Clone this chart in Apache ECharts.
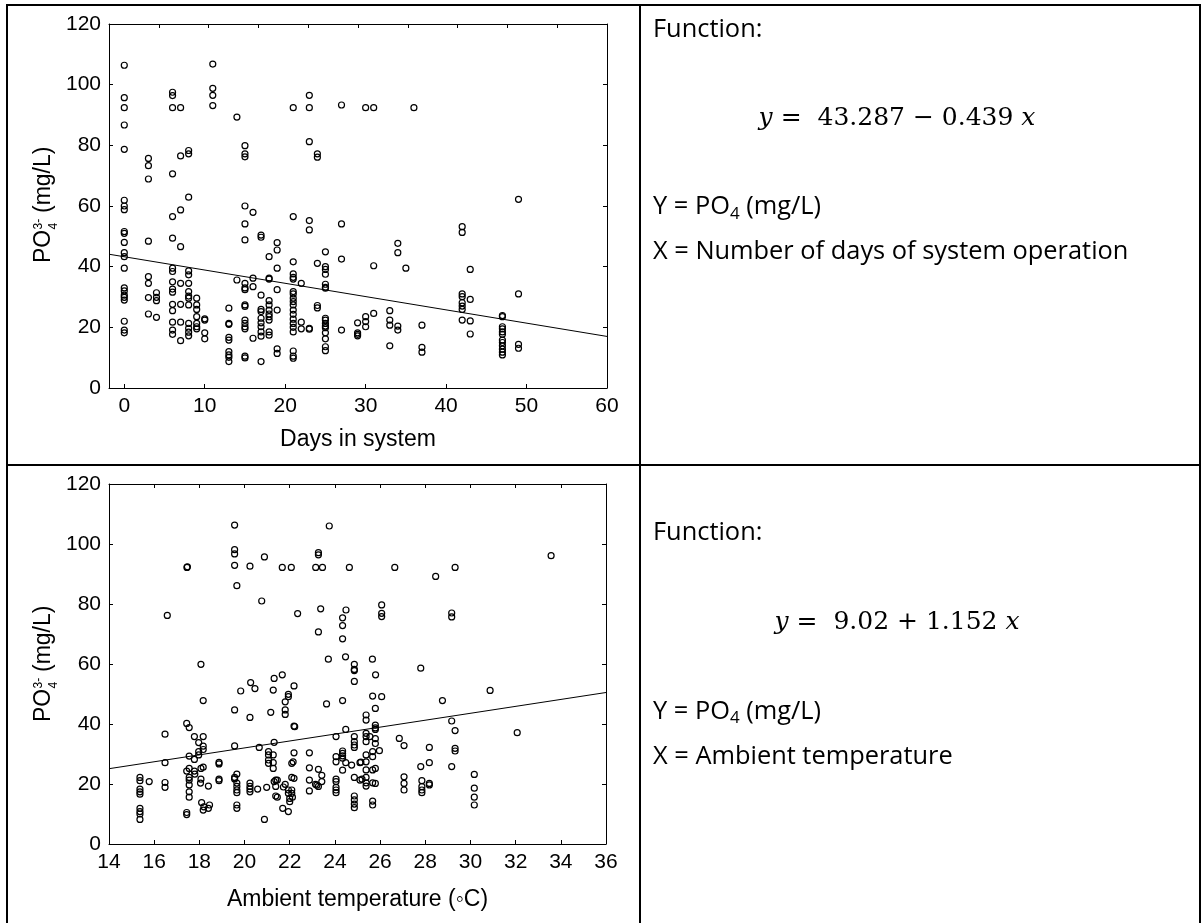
<!DOCTYPE html>
<html><head><meta charset="utf-8">
<script src="https://cdn.jsdelivr.net/npm/echarts@6/dist/echarts.min.js"></script>
<style>html,body{margin:0;padding:0;background:#fff}#c{width:1203px;height:923px}</style>
</head><body><div id="c"></div>
<script>
// ---- data: PO4 vs days in system (grouped by day) ----
const daysGroups = [
 [0, [106.4, 95.7, 92.4, 86.7, 78.7, 61.9, 60.0, 58.8, 51.6, 51.0, 48.0, 44.6, 43.3, 39.5, 33.0, 32.0, 30.6, 29.9, 29.0, 22.0, 19.1, 18.2]],
 [3, [75.7, 73.3, 68.9, 48.4, 36.7, 34.5, 29.8, 24.4]],
 [4, [31.4, 29.9, 28.8, 23.3]],
 [6, [97.5, 96.4, 92.4, 70.6, 56.5, 49.4, 39.5, 38.4, 35.0, 32.6, 31.6, 27.6, 25.5, 21.7, 19.1, 17.7]],
 [7, [92.4, 76.5, 58.7, 46.6, 34.5, 27.6, 21.7, 15.6]],
 [8, [78.3, 77.2, 62.9, 38.6, 37.3, 34.5, 31.8, 30.3, 29.6, 27.4, 21.3, 19.7, 18.4, 17.2]],
 [9, [29.6, 27.4, 25.9, 23.5, 21.3, 20.2, 19.5]],
 [10, [22.8, 22.4, 18.2, 16.2]],
 [11, [106.8, 98.8, 96.5, 93.1]],
 [13, [26.3, 21.3, 21.0, 16.7, 15.8, 12.0, 10.9, 10.1, 8.7]],
 [14, [89.3, 35.6]],
 [15, [79.9, 77.2, 76.2, 60.0, 54.1, 48.8, 34.5, 33.0, 32.4, 27.4, 26.9, 22.4, 21.3, 20.2, 19.5, 10.5, 9.9]],
 [16, [57.9, 36.2, 33.4, 16.4]],
 [17, [50.4, 49.7, 30.6, 25.9, 25.2, 23.0, 21.5, 20.2, 18.5, 17.1, 8.7]],
 [18, [43.3, 36.2, 35.9, 28.8, 27.4, 25.7, 24.4, 23.5, 22.4, 18.5, 17.4]],
 [19, [47.9, 45.5, 39.5, 32.4, 25.7, 12.9, 11.4]],
 [21, [92.4, 56.5, 41.6, 37.6, 36.5, 35.9, 31.8, 31.0, 29.6, 28.5, 27.4, 25.7, 24.3, 22.7, 21.3, 20.0, 18.5, 12.2, 10.5, 9.8]],
 [22, [34.5, 21.7, 19.5]],
 [23, [96.5, 92.4, 81.2, 55.2, 52.1, 19.7, 19.4]],
 [24, [77.2, 76.1, 41.1, 27.2, 26.4]],
 [25, [44.9, 40.0, 39.1, 37.5, 34.2, 33.2, 32.9, 23.0, 22.4, 21.3, 20.4, 19.9, 18.2, 16.2, 13.6, 12.3]],
 [27, [93.3, 54.1, 42.5, 19.1]],
 [29, [21.5, 18.2, 17.7, 17.2]],
 [30, [92.4, 23.5, 21.9, 20.2]],
 [31, [92.4, 40.3, 24.6]],
 [33, [25.5, 22.4, 20.7, 13.9]],
 [34, [47.7, 44.6, 20.4, 19.1]],
 [35, [39.5]],
 [36, [92.4]],
 [37, [20.7, 13.4, 11.8]],
 [42, [53.2, 51.3, 31.0, 30.1, 28.1, 27.0, 25.9, 22.4]],
 [43, [39.1, 29.2, 22.1, 17.8]],
 [47, [23.9, 23.5, 20.2, 19.5, 18.5, 17.7, 15.8, 15.0, 13.9, 12.8, 11.8, 10.9]],
 [49, [62.2, 31.0, 14.4, 13.1]]
];

// ---- data: PO4 vs ambient temperature [temp, PO4] ----
const tempPoints = [
 [16.58,76.2],[17.45,92.2],[17.47,92.4],[18.07,59.9],[19.56,106.3],[19.56,98.1],[19.56,96.7],[19.56,92.9],[19.66,86.1],
 [19.83,51.0],[20.24,92.6],[20.27,53.8],[20.46,51.8],[20.76,81.0],[20.88,95.7],[21.27,51.3],[21.31,55.2],[21.67,92.2],
 [21.67,56.4],[22.07,92.2],[22.19,52.7],[22.35,76.8],[23.15,92.2],[23.27,97.1],[23.27,96.4],[23.27,70.7],[23.37,78.4],
 [23.45,92.2],[23.75,106.0],[23.71,61.6],[24.64,92.2],[26.65,92.2],[29.32,92.2],[28.46,89.2],[33.57,96.1],[24.49,78.0],
 [24.34,75.4],[24.34,72.8],[24.34,68.4],[26.07,79.7],[26.07,76.9],[26.07,75.8],[29.17,77.0],[29.17,75.7],[24.47,62.4],
 [24.86,59.9],[24.86,58.2],[24.86,57.8],[24.86,54.2],[25.66,61.6],[25.8,56.4],[27.8,58.6],[30.87,51.2],
 [15.37,22.2],[15.37,21.1],[15.37,18.3],[15.37,17.4],[15.37,16.6],[15.37,11.9],[15.37,10.8],[15.37,10.0],[15.37,8.2],
 [15.78,20.8],[16.48,36.6],[16.48,27.1],[16.48,20.5],[16.48,18.9],
 [17.44,40.2],[17.55,38.8],[17.44,24.3],[17.55,25.2],[17.55,22.2],[17.55,21.3],[17.55,19.7],[17.55,17.4],[17.55,15.6],
 [17.44,10.5],[17.44,9.8],[17.55,29.3],[17.78,35.8],[17.78,28.2],[17.78,24.3],[17.8,23.3],
 [17.97,33.8],[17.97,30.8],[17.97,29.7],[18.17,35.8],[18.17,32.6],[18.17,31.5],
 [18.07,25.2],[18.17,25.6],[18.05,20.3],[18.07,21.6],[18.1,13.8],[18.17,11.3],[18.2,12.4],[18.4,11.9],[18.45,13.0],[18.4,19.3],[18.17,47.8],
 [18.87,27.2],[18.87,26.7],[18.87,21.6],[18.87,21.1],
 [19.56,44.7],[19.56,32.7],[19.56,22.2],[19.56,21.7],[19.66,23.3],[19.66,20.3],[19.66,19.2],[19.66,18.0],[19.66,17.1],[19.66,13.0],[19.66,11.9],
 [20.24,42.2],[20.24,20.3],[20.24,19.2],[20.24,18.3],[20.24,17.4],
 [20.58,18.3],[20.65,32.2],[20.88,8.2],[20.98,18.9],
 [21.16,43.9],[21.06,30.8],[21.06,29.7],[21.06,28.0],[21.06,26.9],[21.27,29.7],[21.27,27.1],[21.27,25.2],[21.31,33.9],
 [21.31,20.8],[21.38,21.3],[21.45,21.3],[21.38,19.2],[21.38,16.0],[21.45,15.6],
 [21.69,11.9],[21.8,47.4],[21.8,44.7],[21.8,43.2],[21.94,49.9],[21.94,49.1],
 [21.72,19.0],[21.8,19.9],[21.94,18.0],[21.94,16.9],[22.0,15.2],[22.0,14.1],[21.94,10.8],
 [22.09,22.2],[22.19,21.9],[22.09,26.9],[22.15,27.4],[22.19,39.3],[22.22,39.1],[22.19,30.4],[22.09,18.0],[22.09,16.9],[22.12,15.6],
 [22.87,30.4],[22.87,25.4],[22.87,21.3],[22.87,17.7],
 [23.27,24.9],[23.14,19.9],[23.27,19.2],[23.2,19.6],[23.42,22.9],[23.42,20.8],[23.63,46.7],
 [24.34,47.8],[24.05,35.8],[24.05,29.1],[24.05,27.4],[24.05,21.6],[24.05,20.8],[24.05,18.9],[24.05,18.0],[24.05,17.1],
 [24.34,31.0],[24.34,30.2],[24.34,29.4],[24.34,28.6],[24.34,24.6],
 [24.48,38.2],[24.48,27.1],[24.74,26.3],
 [24.86,35.8],[24.86,34.1],[24.86,33.0],[24.86,32.2],[24.86,22.2],[24.86,16.0],[24.86,14.7],[24.86,13.3],[24.86,12.1],
 [25.11,27.1],[25.15,27.3],[25.11,21.3],[25.2,21.6],
 [25.38,43.0],[25.38,41.3],[25.38,36.9],[25.38,35.8],[25.38,34.1],[25.38,27.4],[25.38,29.7],[25.38,24.7],[25.38,22.2],[25.38,20.4],[25.38,19.3],
 [25.55,35.8],[25.67,49.3],[25.79,45.2],[25.79,39.6],[25.79,38.7],[25.79,38.2],
 [25.67,30.8],[25.67,29.1],[25.67,24.7],[25.67,20.4],[25.79,20.2],[25.79,25.2],[25.79,35.1],[25.79,33.5],[25.67,14.3],[25.67,13.0],
 [25.97,31.1],[26.07,49.1],
 [26.85,35.2],[27.06,32.8],[27.06,22.4],[27.06,20.2],[27.06,18.0],
 [27.8,25.8],[27.85,21.1],[27.85,19.1],[27.85,18.0],[27.85,17.1],
 [28.18,32.2],[28.18,27.1],[28.18,20.2],[28.18,19.7],
 [28.76,47.8],[29.17,41.0],[29.32,37.8],[29.32,31.9],[29.32,31.0],[29.17,25.8],
 [30.17,23.2],[30.17,18.6],[30.17,15.6],[30.17,13.0],
 [32.07,37.1]
];

// regression lines (end points)
const trendDays = [[-1.9, 44.1], [60, 17.0]];
const trendTemp = [[14, 25.1], [36, 50.5]];

const daysTicks = [0, 10, 20, 30, 40, 50, 60];
const yTickLabels = [0, 20, 40, 60, 80, 100, 120];
const tempTicks = [14, 16, 18, 20, 22, 24, 26, 28, 30, 32, 34, 36];

const daysPoints = [];
daysGroups.forEach(function (g) { g[1].forEach(function (v) { daysPoints.push([g[0], v]); }); });

const AX = '"Liberation Sans", Arial, sans-serif';
const TX = '"Open Sans", Lato, sans-serif';
const MX = '"DejaVu Serif", serif';
const TS = 25.4;

function baseAxis(extra) {
  return Object.assign({
    type: 'value',
    axisLine: { show: true, onZero: false, lineStyle: { color: '#000', width: 1 } },
    axisTick: { show: true, inside: true, length: 4, lineStyle: { color: '#000' } },
    axisLabel: { color: '#000', fontSize: 21, fontFamily: AX, margin: 8 },
    splitLine: { show: false }
  }, extra);
}
function mirror(extra) {
  const a = baseAxis(extra);
  a.axisLabel = { show: false };
  return a;
}

const chart = echarts.init(document.getElementById('c'), null, { renderer: 'canvas' });

function line(x1, y1, x2, y2) {
  return { type: 'line', silent: true, shape: { x1: x1, y1: y1, x2: x2, y2: y2 }, style: { stroke: '#000', lineWidth: 2 } };
}
function txt(x, y, s, size, fam, align) {
  return { type: 'text', silent: true, x: x, y: y, style: { text: s, fontSize: size, fontFamily: fam, fill: '#000', align: align || 'left', verticalAlign: 'middle' } };
}
function yTitle(cy) {
  return {
    type: 'group', silent: true, x: 52, y: cy + 58, rotation: Math.PI / 2,
    children: [
      { type: 'text', x: 0, y: -8, style: { text: 'PO', fontSize: 23, fontFamily: AX, fill: '#000', verticalAlign: 'middle' } },
      { type: 'text', x: 33.5, y: 2, style: { text: '4', fontSize: 12, fontFamily: AX, fill: '#000', verticalAlign: 'middle' } },
      { type: 'text', x: 33.5, y: -13, style: { text: '3-', fontSize: 12, fontFamily: AX, fill: '#000', verticalAlign: 'middle' } },
      { type: 'text', x: 50, y: -8, style: { text: '(mg/L)', fontSize: 23, fontFamily: AX, fill: '#000', verticalAlign: 'middle' } }
    ]
  };
}
function poLine(y) {
  return {
    type: 'text', silent: true, x: 653, y: y,
    style: {
      text: '{n|Y = PO}{s|4}{n| (mg/L)}', fill: '#000', verticalAlign: 'middle',
      rich: { n: { fontSize: TS, fontFamily: TX, lineHeight: 31 }, s: { fontSize: 17, fontFamily: TX, lineHeight: 17, verticalAlign: 'bottom' } }
    }
  };
}
function eq(y, mid) {
  return {
    type: 'text', silent: true, x: 897, y: y,
    style: {
      text: '{i|y}{r| =  ' + mid + ' }{i|x}', fill: '#000', align: 'center', verticalAlign: 'middle',
      rich: { i: { fontSize: 25, fontFamily: MX, fontStyle: 'italic' }, r: { fontSize: 25, fontFamily: MX } }
    }
  };
}

const option = {
  animation: false,
  backgroundColor: '#fff',
  grid: [
    { left: 109, top: 24, width: 498, height: 364 },
    { left: 109, top: 484, width: 497, height: 360 }
  ],
  xAxis: [
    baseAxis({ gridIndex: 0, position: 'bottom', min: -1.9, max: 60,
      axisTick: { show: true, inside: true, length: 4, lineStyle: { color: '#000' }, customValues: daysTicks },
      axisLabel: { color: '#000', fontSize: 21, fontFamily: AX, margin: 8, customValues: daysTicks },
      name: 'Days in system', nameLocation: 'middle', nameGap: 40,
      nameTextStyle: { color: '#000', fontSize: 23, fontFamily: AX } }),
    mirror({ gridIndex: 0, position: 'top', min: 0, max: 10, interval: 1 }),
    baseAxis({ gridIndex: 1, position: 'bottom', min: 14, max: 36, interval: 2,
      name: 'Ambient temperature (\u25E6C)', nameLocation: 'middle', nameGap: 44,
      nameTextStyle: { color: '#000', fontSize: 23, fontFamily: AX } }),
    mirror({ gridIndex: 1, position: 'top', min: 14, max: 36, interval: 2 })
  ],
  yAxis: [
    baseAxis({ gridIndex: 0, position: 'left', min: 0, max: 120, interval: 20 }),
    mirror({ gridIndex: 0, position: 'right', min: 0, max: 120, interval: 20 }),
    baseAxis({ gridIndex: 1, position: 'left', min: 0, max: 120, interval: 20 }),
    mirror({ gridIndex: 1, position: 'right', min: 0, max: 120, interval: 20 })
  ],
  series: [
    { type: 'scatter', xAxisIndex: 0, yAxisIndex: 0, data: daysPoints, symbol: 'circle', symbolSize: 6, silent: true,
      itemStyle: { color: 'rgba(0,0,0,0)', borderColor: '#000', borderWidth: 1.2, opacity: 1 } },
    { type: 'line', xAxisIndex: 0, yAxisIndex: 0, data: trendDays, symbol: 'none', silent: true,
      lineStyle: { color: '#000', width: 1 } },
    { type: 'scatter', xAxisIndex: 2, yAxisIndex: 2, data: tempPoints, symbol: 'circle', symbolSize: 6, silent: true,
      itemStyle: { color: 'rgba(0,0,0,0)', borderColor: '#000', borderWidth: 1.2, opacity: 1 } },
    { type: 'line', xAxisIndex: 2, yAxisIndex: 2, data: trendTemp, symbol: 'none', silent: true,
      lineStyle: { color: '#000', width: 1 } }
  ],
  graphic: [
    line(6, 5, 1201, 5),
    line(7, 4, 7, 923),
    line(640, 4, 640, 923),
    line(1200, 4, 1200, 923),
    line(6, 465, 1201, 465),
    yTitle(205),
    yTitle(664),
    txt(653, 29.5, 'Function:', TS, TX),
    eq(118, '43.287 \u2212 0.439'),
    poLine(207),
    txt(653, 251.5, 'X = Number of days of system operation', TS, TX),
    txt(653, 532.5, 'Function:', TS, TX),
    eq(622, '9.02 + 1.152'),
    poLine(711.5),
    txt(653, 756.5, 'X = Ambient temperature', TS, TX)
  ]
};
chart.setOption(option);
</script>
</body></html>
